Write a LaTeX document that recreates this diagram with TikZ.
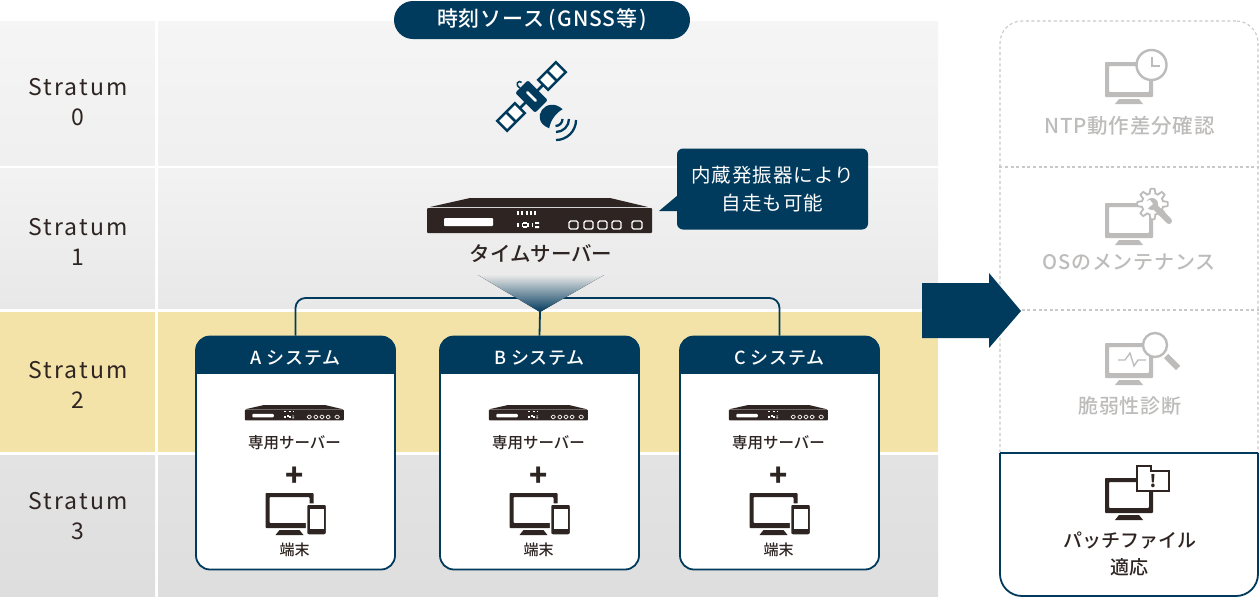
\documentclass[tikz,border=0pt]{standalone}
\usepackage{fontspec}
\setmainfont{Noto Sans CJK JP}
\newfontfamily\medfont{Noto Sans CJK JP Medium}
\newfontfamily\widefont[LetterSpace=9]{Noto Sans CJK JP}
\newfontfamily\notefont[LetterSpace=5]{Noto Sans CJK JP}
\newfontfamily\widemed[LetterSpace=4]{Noto Sans CJK JP Medium}
\usetikzlibrary{positioning,arrows.meta}
\definecolor{navy}{HTML}{003A5C}
\definecolor{ink}{HTML}{2E2522}
\definecolor{ash}{HTML}{BDBCBB}
\newcommand{\fsz}[1]{\fontsize{#1}{#1}\selectfont}

\tikzset{
  pics/server/.style={code={
    \fill[ink] (-110,-9) -- (-70,-18) -- (70,-18) -- (108,-9) -- cycle;
    \fill[ink, rounded corners=1pt] (-113,-8) rectangle (112,17);
    \fill[white, rounded corners=1pt] (-96,2) rectangle (-47,10);
    \draw[white, line width=2.2*#1, dash pattern=on 2 off 2.3] (-23,-3) -- (-2,-3);
    \draw[white, line width=2.2*#1, dash pattern=on 2 off 2.5] (-23,9) -- (-17,9) (-15,5.5) -- (-15,12.5) (-13,9) -- (-8,9);
    \fill[white] (-5,6) rectangle (-1,7.8) (-5,10) rectangle (-1,12);
    \draw[white, line width=#1, rounded corners=1.5pt] (29,5) rectangle (38,13) (44,5) rectangle (53,13) (58,5) rectangle (67,13) (72,5) rectangle (81,13) (92,5) rectangle (102,13);
  }},
  pics/monitor/.style={code={
    \fill[#1, even odd rule, rounded corners=.8pt] (-24,-20) rectangle (24,15) (-20,-16) rectangle (20,10);
    \fill[#1] (-10,17) -- (10,17) -- (14,22) -- (-14,22) -- cycle;
  }},
  pics/syscard/.style={code={
    \node[cardbox] (-box) at (0,0) {};
    \begin{scope}
      \clip[rounded corners=14pt] (-100,-117) rectangle (100,117);
      \fill[navy] (-100,-117) rectangle (100,-79);
    \end{scope}
    \node[cardhead] (-head) at (0,-95.5) {#1};
    \pic[scale=.44] at (-1,-40) {server=.7};
    \node[cardtext, font=\medfont\fsz{15.5}] (-srv) at (-1,-10.5) {専用サーバー};
    \node[cardtext, font=\bfseries\fsz{30}] (-plus) at (-1,24) {+};
    \pic at (-6,60) {monitor=ink};
    \fill[ink, draw=white, line width=1.5pt, rounded corners=2pt] (11,51) rectangle (31,82);
    \fill[white] (14,56) rectangle (28,76);
    \node[cardtext, font=\medfont\fsz{15}] (-term) at (-1,97) {端末};
  }}
}

\begin{document}
\begin{tikzpicture}[
  x=1pt, y=-1pt,
  band/.style={inner sep=0pt, minimum width=#1},
  strat/.style={inner sep=0pt, align=center, font=\widefont\fsz{23}, text=ink, execute at begin node={\setlength{\baselineskip}{30pt}}},
  cardbox/.style={draw=navy, line width=1.8pt, fill=white, rounded corners=14pt, minimum width=199pt, minimum height=233pt, inner sep=0pt},
  cardhead/.style={font=\widemed\fsz{18}, text=white, inner sep=0pt},
  cardtext/.style={text=ink, inner sep=0pt},
  link/.style={draw=navy, line width=1.8pt},
  dotline/.style={draw=ash!80, line width=1.1pt, dash pattern=on 3pt off 2.6pt},
  greytext/.style={font=\widemed\fsz{20}, text=ash, inner sep=0pt},
  notebox/.style={fill=navy, text=white, rounded corners=6pt, inner sep=0pt, align=center, font=\notefont\fsz{19.5}, minimum width=191pt, minimum height=81pt}
]
\useasboundingbox (0,0) rectangle (1260,598);
\fill[white] (0,0) rectangle (1260,598);

% stratum rows
\node[band=155pt, minimum height=144pt, top color=black!4, bottom color=black!6] (s0) at (77.5,93) {};
\node[band=155pt, minimum height=140pt, top color=black!5, bottom color=black!9] (s1) at (77.5,238) {};
\node[band=155pt, minimum height=140pt, fill={rgb,255:red,244;green,227;blue,168}] (s2) at (77.5,382) {};
\node[band=155pt, minimum height=141pt, top color=black!11, bottom color=black!13] (s3) at (77.5,525.5) {};
\node[band=780pt, minimum height=144pt, top color=black!4, bottom color=black!6] (r0) at (548,93) {};
\node[band=780pt, minimum height=140pt, top color=black!5, bottom color=black!9] (r1) at (548,238) {};
\node[band=780pt, minimum height=140pt, fill={rgb,255:red,244;green,227;blue,168}] (r2) at (548,382) {};
\node[band=780pt, minimum height=141pt, top color=black!11, bottom color=black!13] (r3) at (548,525.5) {};
\node[strat] (s0lab) at (78,102) {Stratum\\0};
\node[strat] (s1lab) at (78,242) {Stratum\\1};
\node[strat] (s2lab) at (78,385) {Stratum\\2};
\node[strat] (s3lab) at (78,516) {Stratum\\3};

% time source
\node[fill=navy, text=white, rounded corners=19pt, minimum width=296pt, minimum height=38pt, inner sep=0pt, font=\widemed\fsz{21}] (source) at (542,20) {時刻ソース\hspace{4pt}(\hspace{2pt}GNSS等\hspace{2pt})};

% satellite
\begin{scope}[shift={(531.5,96.5)}, rotate=45]
  \draw[navy, line width=2.5pt, fill=white] (16.5,-7) rectangle (41.5,7);
  \draw[navy, line width=2.5pt, fill=white] (-41.5,-7) rectangle (-16.5,7);
  \draw[navy, line width=2.5pt] (29,-7) -- (29,7) (-29,-7) -- (-29,7) (8,0) -- (16.5,0) (-16.5,0) -- (-8,0);
  \fill[navy, rounded corners=2pt] (-9,-14) rectangle (9,14);
  \fill[white, rounded corners=1pt] (-1.4,-7) rectangle (1.4,7);
  \draw[navy, line width=1.5pt] (-2,-14) .. controls (-4,-21) and (3,-21) .. (3,-17);
  \fill[navy] (-10,35) .. controls (-19,14) and (12,9) .. (13,31) .. controls (6,29) and (-3,30) .. cycle;
\end{scope}
\draw[navy, line width=2.3pt] (562.5,119) arc[start angle=0, end angle=90, radius=7];
\draw[navy, line width=2.3pt] (569,119) arc[start angle=0, end angle=90, radius=13];
\draw[navy, line width=2.3pt] (576,120) arc[start angle=0, end angle=90, radius=20];

% time server
\pic at (540,216) {server=1.4};
\node[cardtext, font=\medfont\fsz{20.5}] (tsrv) at (541,254) {タイムサーバー};
\node[notebox] (note) at (772.5,189) {内蔵発振器により\\[8.5pt]自走も可能};
\coordinate (notetip) at (659,211);
\fill[navy] (notetip) -- (note.west |- 0,196) -- (note.west |- 0,211) -- cycle;

% system cards
\pic (cardA) at (295.5,453) {syscard=A システム};
\pic (cardB) at (539.5,453) {syscard=B システム};
\pic (cardC) at (779.5,453) {syscard=C システム};

% connectors
\coordinate (busmid) at (540,298);
\coordinate (funnel) at (540,312);
\draw[link, rounded corners=10pt] (cardA-box.north) |- (busmid) -| (cardC-box.north);
\draw[link] (funnel) -- (cardB-box.north);
\fill[top color=black!9, bottom color=navy] (478,275) -- (604,275) -- (funnel) -- cycle;

% right panel
\node[dotline, rounded corners=22pt, minimum width=258pt, minimum height=575pt, inner sep=0pt] (panel) at (1129,308.5) {};
\draw[dotline] (panel.west |- 0,167) -- (panel.east |- 0,167);
\draw[dotline] (panel.west |- 0,310) -- (panel.east |- 0,310);
\fill[white, rounded corners=22pt] (1000,453) -- (1000,596) -- (1258,596) -- (1258,453);
\draw[link, rounded corners=22pt] (1000,453) -- (1000,596) -- (1258,596) -- (1258,453);
\draw[link] (1000,453) -- (1258,453);

% big arrow
\fill[navy] (922,283) -- (989,283) -- (989,273) -- (1021,311) -- (989,348) -- (989,338) -- (922,338) -- cycle;

% ntp check
\pic at (1129,82) {monitor=ash};
\draw[ash, line width=2.4pt, fill=white] (1151.5,65) circle[radius=15pt];
\draw[ash, line width=2pt] (1151.5,57) -- (1151.5,66) -- (1160,66);
\node[greytext, font=\widemed\fsz{20.5}] (ntp) at (1129.5,126) {NTP動作差分確認};

% os maintenance
\pic at (1129,223) {monitor=ash};
\draw[ash, line width=1.8pt, fill=white] plot[domain=0:360, samples=97] ({1152.5+(13+2.2*sign(cos(8*\x)))*cos(\x)}, {204+(13+2.2*sign(cos(8*\x)))*sin(\x)}) -- cycle;
\draw[ash, line width=6pt, line cap=round] (1155,207) -- (1169,221);
\fill[ash] (1152,204) circle[radius=6pt];
\fill[white] (1143,202) -- (1150,200) -- (1153,204) -- (1147,209) -- cycle;
\node[greytext] (osm) at (1129,262) {OSのメンテナンス};

% vulnerability check
\pic at (1129,363) {monitor=ash};
\draw[ash, line width=1.3pt] (1118,360) -- (1125,360) -- (1130,353) -- (1134,366) -- (1138,360) -- (1146,360);
\draw[ash, line width=2.4pt, fill=white] (1155,345) circle[radius=12pt];
\draw[ash, line width=6pt] (1166,356) -- (1178,368);
\node[greytext] (vuln) at (1130,406) {脆弱性診断};

% patch
\pic at (1129,498) {monitor=ink};
\draw[ink, line width=1.6pt, fill=white] (1137,466) -- (1151,466) -- (1151,471) -- (1169,471) -- (1169,491) -- (1137,491) -- cycle;
\node[cardtext, font=\bfseries\fsz{17}] (bang) at (1153,481) {!};
\node[cardtext, font=\medfont\fsz{19}] (patch) at (1129.5,540) {パッチファイル};
\node[cardtext, font=\medfont\fsz{19}] (apply) at (1129,567) {適応};
\end{tikzpicture}
\end{document}
